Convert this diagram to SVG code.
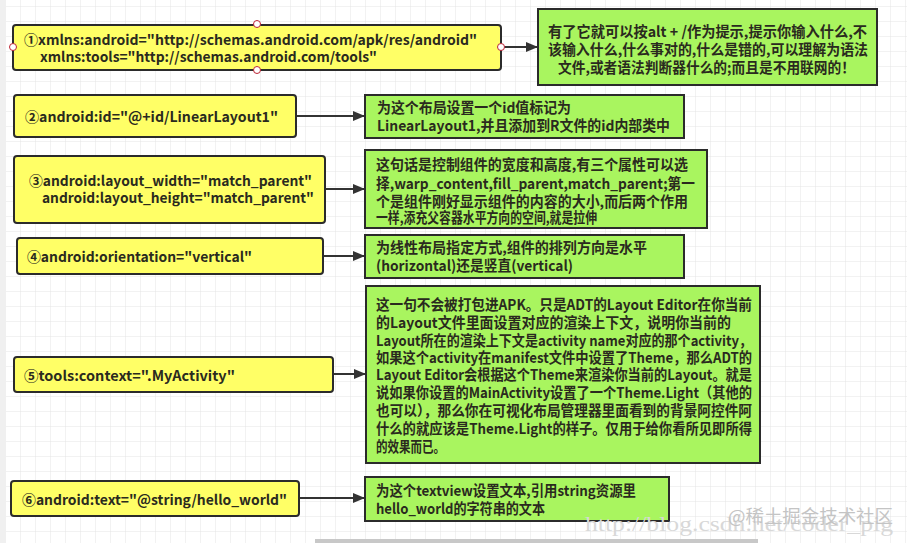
<svg xmlns="http://www.w3.org/2000/svg" width="907" height="543" viewBox="0 0 907 543">
<defs>
<pattern id="grid" x="6" y="7" width="15" height="15" patternUnits="userSpaceOnUse">
<path d="M15 0 V15 M0 15 H15" fill="none" stroke="#e4e4e4" stroke-width="1"/>
</pattern>
<marker id="arr" viewBox="0 0 12 10" refX="11" refY="5" markerWidth="12" markerHeight="10" markerUnits="userSpaceOnUse" orient="auto">
<path d="M0 0 L12 5 L0 10 Z" fill="#333"/>
</marker>
<style>
.y{fill:#ffff66;stroke:#2b2b2b;stroke-width:2}
.g{fill:#a9f55f;stroke:#2b2b2b;stroke-width:2}
.t{font-family:"Noto Sans CJK SC","Liberation Sans",sans-serif;font-weight:bold;font-size:14px;fill:#2a2a1e}
.c{font-family:"Noto Sans CJK SC","Liberation Sans",sans-serif;font-weight:bold;font-size:14.5px;fill:#2a2a1e}
.h{fill:#fff;stroke:#b23;stroke-width:1}
.l{stroke:#333;stroke-width:2;fill:none}
</style>
</defs>
<rect width="907" height="543" fill="#fff"/>
<rect width="907" height="543" fill="url(#grid)"/>
<rect x="0" y="0" width="6" height="543" fill="#f0f0f0"/>
<rect x="315" y="539" width="443" height="4" fill="#c8c8c8"/>

<g id="connectors">
<line class="l" x1="502" y1="47" x2="537" y2="47" marker-end="url(#arr)"/>
<line class="l" x1="297" y1="116" x2="364" y2="116" marker-end="url(#arr)"/>
<line class="l" x1="326" y1="189" x2="364" y2="189" marker-end="url(#arr)"/>
<line class="l" x1="324" y1="256" x2="364" y2="256" marker-end="url(#arr)"/>
<line class="l" x1="334" y1="374" x2="365" y2="374" marker-end="url(#arr)"/>
<line class="l" x1="300" y1="498" x2="364" y2="498" marker-end="url(#arr)"/>
</g>

<g id="n1">
<rect class="y" x="13" y="25" width="488" height="45" rx="3"/>
<text class="t" x="24" y="45" textLength="453" lengthAdjust="spacingAndGlyphs">①xmlns:android="http://schemas.android.com/apk/res/android"</text>
<text class="t" x="40" y="62" textLength="337" lengthAdjust="spacingAndGlyphs">xmlns:tools="http://schemas.android.com/tools"</text>
<circle class="h" cx="257" cy="24" r="3.5"/>
<circle class="h" cx="257" cy="70" r="3.5"/>
<circle class="h" cx="13" cy="47" r="3.5"/>
<circle class="h" cx="501" cy="47" r="3.5"/>
</g>
<g id="d1">
<rect class="g" x="538" y="9" width="339" height="76"/>
<text class="c" x="548" y="37" textLength="319" lengthAdjust="spacingAndGlyphs">有了它就可以按alt + /作为提示,提示你输入什么,不</text>
<text class="c" x="548" y="55" textLength="320" lengthAdjust="spacingAndGlyphs">该输入什么,什么事对的,什么是错的,可以理解为语法</text>
<text class="c" x="558" y="73" textLength="297" lengthAdjust="spacingAndGlyphs">文件,或者语法判断器什么的;而且是不用联网的！</text>
</g>

<g id="n2">
<rect class="y" x="14" y="95" width="282" height="42" rx="3"/>
<text class="t" x="25" y="122" textLength="253" lengthAdjust="spacingAndGlyphs">②android:id="@+id/LinearLayout1"</text>
</g>
<g id="d2">
<rect class="g" x="365" y="95" width="319" height="43"/>
<text class="c" x="377" y="113" textLength="194" lengthAdjust="spacingAndGlyphs">为这个布局设置一个id值标记为</text>
<text class="c" x="377" y="131" textLength="293" lengthAdjust="spacingAndGlyphs">LinearLayout1,并且添加到R文件的id内部类中</text>
</g>

<g id="n3">
<rect class="y" x="14" y="156" width="311" height="67" rx="3"/>
<text class="t" x="29" y="186" textLength="283" lengthAdjust="spacingAndGlyphs">③android:layout_width="match_parent"</text>
<text class="t" x="42" y="203" textLength="272" lengthAdjust="spacingAndGlyphs">android:layout_height="match_parent"</text>
</g>
<g id="d3">
<rect class="g" x="365" y="150" width="342" height="78"/>
<text class="c" x="376" y="170" textLength="312" lengthAdjust="spacingAndGlyphs">这句话是控制组件的宽度和高度,有三个属性可以选</text>
<text class="c" x="376" y="189" textLength="319" lengthAdjust="spacingAndGlyphs">择,warp_content,fill_parent,match_parent;第一</text>
<text class="c" x="376" y="207" textLength="312" lengthAdjust="spacingAndGlyphs">个是组件刚好显示组件的内容的大小,而后两个作用</text>
<text class="c" x="376" y="223" textLength="221" lengthAdjust="spacingAndGlyphs">一样,添充父容器水平方向的空间,就是拉伸</text>
</g>

<g id="n4">
<rect class="y" x="17" y="238" width="306" height="36" rx="3"/>
<text class="t" x="27" y="262" textLength="225" lengthAdjust="spacingAndGlyphs">④android:orientation="vertical"</text>
</g>
<g id="d4">
<rect class="g" x="365" y="235" width="319" height="43"/>
<text class="c" x="376" y="253" textLength="271" lengthAdjust="spacingAndGlyphs">为线性布局指定方式,组件的排列方向是水平</text>
<text class="c" x="376" y="271" textLength="197" lengthAdjust="spacingAndGlyphs">(horizontal)还是竖直(vertical)</text>
</g>

<g id="n5">
<rect class="y" x="14" y="357" width="319" height="35" rx="3"/>
<text class="t" x="24" y="381" textLength="211" lengthAdjust="spacingAndGlyphs">⑤tools:context=".MyActivity"</text>
</g>
<g id="d5">
<rect class="g" x="366" y="286" width="394" height="177"/>
<text class="c" x="376" y="310" textLength="376" lengthAdjust="spacingAndGlyphs">这一句不会被打包进APK。只是ADT的Layout Editor在你当前</text>
<text class="c" x="376" y="328" textLength="355" lengthAdjust="spacingAndGlyphs">的Layout文件里面设置对应的渲染上下文，说明你当前的</text>
<text class="c" x="376" y="346" textLength="376" lengthAdjust="spacingAndGlyphs">Layout所在的渲染上下文是activity name对应的那个activity，</text>
<text class="c" x="376" y="363" textLength="376" lengthAdjust="spacingAndGlyphs">如果这个activity在manifest文件中设置了Theme，那么ADT的</text>
<text class="c" x="376" y="380" textLength="376" lengthAdjust="spacingAndGlyphs">Layout Editor会根据这个Theme来渲染你当前的Layout。就是</text>
<text class="c" x="376" y="398" textLength="376" lengthAdjust="spacingAndGlyphs">说如果你设置的MainActivity设置了一个Theme.Light（其他的</text>
<text class="c" x="376" y="416" textLength="376" lengthAdjust="spacingAndGlyphs">也可以），那么你在可视化布局管理器里面看到的背景阿控件阿</text>
<text class="c" x="376" y="434" textLength="376" lengthAdjust="spacingAndGlyphs">什么的就应该是Theme.Light的样子。仅用于给你看所见即所得</text>
<text class="c" x="376" y="452" textLength="69" lengthAdjust="spacingAndGlyphs">的效果而已。</text>
</g>

<g id="n6">
<rect class="y" x="11" y="481" width="288" height="35" rx="3"/>
<text class="t" x="22" y="505" textLength="265" lengthAdjust="spacingAndGlyphs">⑥android:text="@string/hello_world"</text>
</g>
<g id="d6">
<rect class="g" x="365" y="477" width="304" height="44"/>
<text class="c" x="376" y="496" textLength="260" lengthAdjust="spacingAndGlyphs">为这个textview设置文本,引用string资源里</text>
<text class="c" x="376" y="514" textLength="169" lengthAdjust="spacingAndGlyphs">hello_world的字符串的文本</text>
</g>

<g id="watermark">
<text x="585" y="531" font-family="Liberation Serif,serif" font-size="22" fill="#d8d8d8" textLength="308" lengthAdjust="spacingAndGlyphs">http://blog.csdn.net/coder_pig</text>
<text x="728" y="523" font-family="Noto Sans CJK SC,sans-serif" font-size="18" fill="#c4c4c4" textLength="165" lengthAdjust="spacingAndGlyphs">@稀土掘金技术社区</text>
</g>
</svg>
